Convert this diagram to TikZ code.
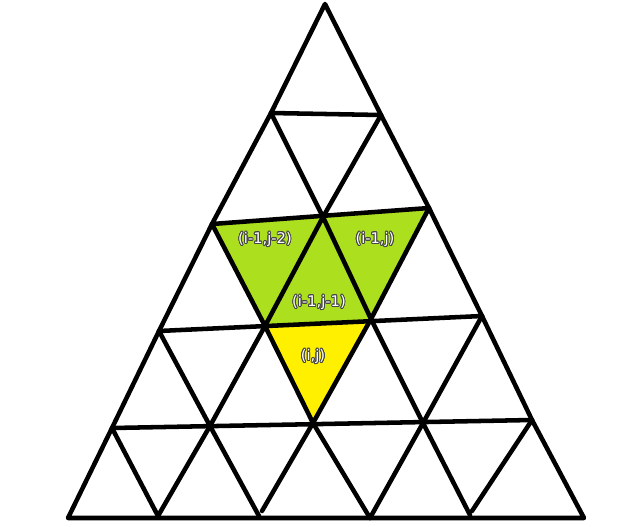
\documentclass[tikz,border=0pt]{standalone}
\usepackage{fontspec}
\newfontfamily\labelfont{DejaVu Sans}
\usepackage[copies]{contour}
\contourlength{0.7pt}
\definecolor{limefill}{RGB}{172,224,30}
\definecolor{yellowfill}{RGB}{255,240,0}
\definecolor{outlinegray}{RGB}{70,70,70}
\tikzset{
  gridline/.style={line width=3.4pt, line cap=round, line join=round, black},
  greencell/.style={fill=limefill},
  yellowcell/.style={fill=yellowfill},
  celllabel/.style={font=\labelfont\fontsize{11}{13}\selectfont, text=white, inner sep=0pt}
}
\begin{document}
\begin{tikzpicture}[x=0.75pt,y=-0.75pt]
\useasboundingbox (0,0) rectangle (640,526);
% lattice points
\coordinate (a) at (325,4);
\coordinate (b1) at (271,113); \coordinate (b2) at (381,115);
\coordinate (c1) at (212,224); \coordinate (c2) at (323,217); \coordinate (c3) at (429,208);
\coordinate (d1) at (159,331); \coordinate (d2) at (265,326); \coordinate (d3) at (371,319); \coordinate (d4) at (482,316);
\coordinate (e1) at (112,428); \coordinate (e2) at (210,426); \coordinate (e3) at (313,423); \coordinate (e4) at (423,423); \coordinate (e5) at (532,420);
\coordinate (f1) at (68,518); \coordinate (f2) at (158,516); \coordinate (f3) at (259,516); \coordinate (f4) at (370,518); \coordinate (f5) at (470,515); \coordinate (f6) at (584,518);
\coordinate (g1) at (262,511); \coordinate (g2) at (472,511);
% fills
\fill[greencell] (c1) -- (c2) -- (d2) -- cycle;
\fill[greencell] (c2) -- (c3) -- (d3) -- cycle;
\fill[greencell] (c2) -- (d2) -- (d3) -- cycle;
\fill[yellowcell] (d2) -- (d3) -- (e3) -- cycle;
% outer triangle
\draw[gridline] (a) -- (b1) -- (c1) -- (d1) -- (e1) -- (f1) -- (f6) -- (e5) -- (d4) -- (c3) -- (b2) -- cycle;
% horizontal lines
\draw[gridline] (b1) -- (b2);
\draw[gridline] (c1) -- (c3);
\draw[gridline] (d1) -- (d4);
\draw[gridline] (e1) -- (e5);
% down-right diagonals
\draw[gridline] (b1) -- (c2) -- (d3) -- (e4) -- (f5);
\draw[gridline] (c1) -- (d2) -- (e3) -- (f4);
\draw[gridline] (d1) -- (e2) -- (f3);
\draw[gridline] (e1) -- (f2);
% down-left diagonals
\draw[gridline] (b2) -- (c2) -- (d2) -- (e2) -- (f2);
\draw[gridline] (c3) -- (d3) -- (e3) -- (g1);
\draw[gridline] (d4) -- (e4) -- (f4);
\draw[gridline] (e5) -- (g2);
% labels
\node[celllabel] (l1) at (265,240) {\contour{outlinegray}{(i-1,j-2)}};
\node[celllabel] (l2) at (375,240) {\contour{outlinegray}{(i-1,j)}};
\node[celllabel] (l3) at (319,303) {\contour{outlinegray}{(i-1,j-1)}};
\node[celllabel] (l4) at (313,357) {\contour{outlinegray}{(i,j)}};
\end{tikzpicture}
\end{document}
